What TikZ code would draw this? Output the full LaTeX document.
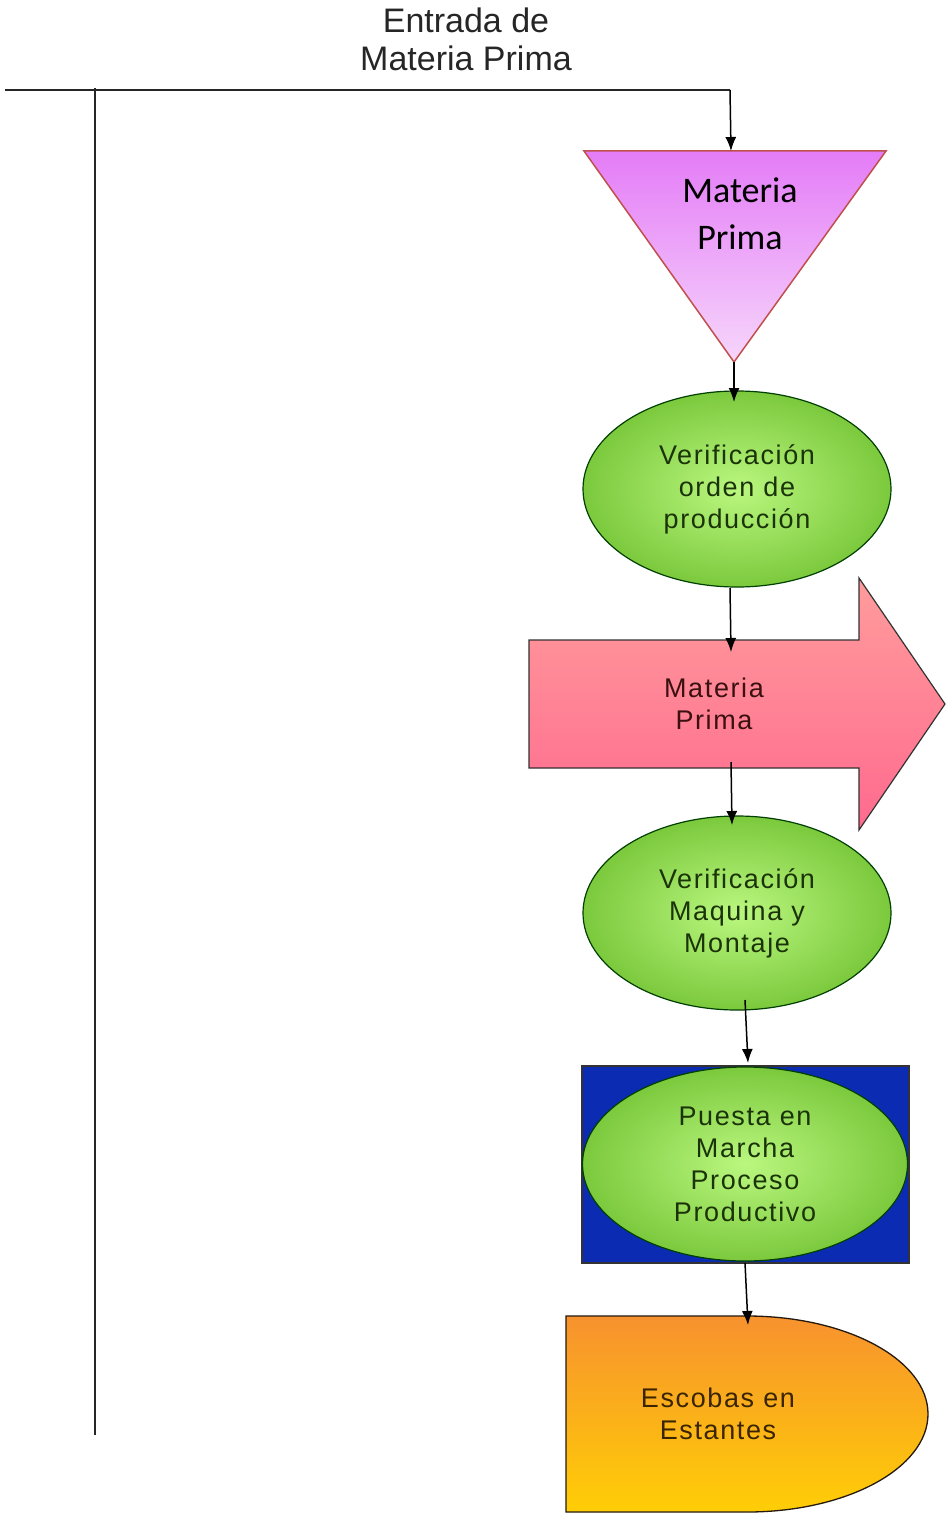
\documentclass[tikz,border=0pt]{standalone}
\usepackage{fontspec}
\setmainfont{Liberation Sans}
\newfontfamily\calibfont{Carlito}
\usetikzlibrary{arrows.meta,shapes.geometric}

\definecolor{violetTop}{HTML}{E47CF7}
\definecolor{violetBot}{HTML}{F6D6FB}
\definecolor{triEdge}{HTML}{C0504D}
\definecolor{greenIn}{HTML}{BAF77F}
\definecolor{greenOut}{HTML}{7CC93D}
\definecolor{pinkTop}{HTML}{FF9C9C}
\definecolor{pinkBot}{HTML}{FF6A8E}
\definecolor{blueIn}{HTML}{3058E6}
\definecolor{blueOut}{HTML}{0B2BB2}
\definecolor{orangeTop}{HTML}{F7922E}
\definecolor{orangeBot}{HTML}{FFCE06}
\definecolor{greenInk}{HTML}{1B3308}
\definecolor{redInk}{HTML}{3A1010}
\definecolor{brownInk}{HTML}{3A2500}

\begin{document}
\begin{tikzpicture}[x=1pt,y=-1pt,
  rule/.style={draw=black!85, line width=1.8pt},
  flow/.style={draw=black, line width=1.5pt, -{Latex[length=14pt,width=11pt]}},
  label/.style={font=\fontsize{27}{32}\selectfont\addfontfeature{LetterSpace=6}, align=center},
  greenell/.style={ellipse, draw=black!75!green, line width=1.2pt,
    inner color=greenIn, outer color=greenOut, inner sep=0pt,
    text=greenInk, label},
]
% page
\fill[white] (0,0) rectangle (948,1517);

% title
\node[font=\fontsize{34}{38}\selectfont, align=center, text=black!85] (title) at (466,39)
  {Entrada de\\Materia Prima};

% input line and left rail
\coordinate (railL) at (5,90);
\coordinate (railTop) at (95,88);
\coordinate (railBot) at (95,1435);
\coordinate (inEnd) at (730,90);
\draw[rule] (railL) -- (inEnd);
\draw[rule] (railTop) -- (railBot);

% storage triangle
\path[draw=triEdge, line width=1.5pt, top color=violetTop, bottom color=violetBot]
  (584,151) -- (886,151) -- (734,362) -- cycle;
\node[font=\calibfont\fontsize{36}{47}\selectfont, align=center] (mp) at (740,214)
  {Materia\\Prima};
\coordinate (mpIn) at (731,151);
\coordinate (mpOut) at (734,362);

% first check
\node[greenell, minimum width=308pt, minimum height=196pt] (v1) at (737,489)
  {Verificación\\orden de\\producción};
\coordinate (v1In) at (734,402);
\coordinate (v1Out) at (730,588);

% transport block arrow
\path[draw=black!80, line width=1.2pt, top color=pinkTop, bottom color=pinkBot]
  (529,640) -- (859,640) -- (859,578) -- (945,704) -- (859,830) -- (859,768)
  -- (529,768) -- cycle;
\node[label, text=redInk] (mp2) at (714,704) {Materia\\Prima};
\coordinate (arIn) at (731,652);
\coordinate (arOut) at (731,762);

% second check
\node[greenell, minimum width=308pt, minimum height=194pt] (v2) at (737,913)
  {Verificación\\Maquina y\\Montaje};
\coordinate (v2In) at (732,825);
\coordinate (v2Out) at (745,1000);

% combined operation: box with ellipse
\path[draw=black!80, line width=1.2pt, inner color=blueIn, outer color=blueOut]
  (582,1066) rectangle (909,1263);
\node[greenell, minimum width=325pt, minimum height=194pt] (v3) at (745,1164)
  {Puesta en\\Marcha\\Proceso\\Productivo};
\coordinate (v3In) at (748,1063);
\coordinate (v3Out) at (745,1263);

% delay / storage shape
\path[draw=black!80!brown, line width=1.3pt, top color=orangeTop, bottom color=orangeBot]
  (566,1316) -- (747,1316)
  .. controls (847,1316) and (928,1360) .. (928,1414)
  .. controls (928,1468) and (847,1512) .. (747,1512)
  -- (566,1512) -- cycle;
\node[label, text=brownInk] (esc) at (718,1414) {Escobas en\\Estantes};
\coordinate (shIn) at (748,1325);

% connectors
\draw[flow] (inEnd) -- (mpIn);
\draw[flow] (mpOut) -- (v1In);
\draw[flow] (v1Out) -- (arIn);
\draw[flow] (arOut) -- (v2In);
\draw[flow] (v2Out) -- (v3In);
\draw[flow] (v3Out) -- (shIn);
\end{tikzpicture}
\end{document}
